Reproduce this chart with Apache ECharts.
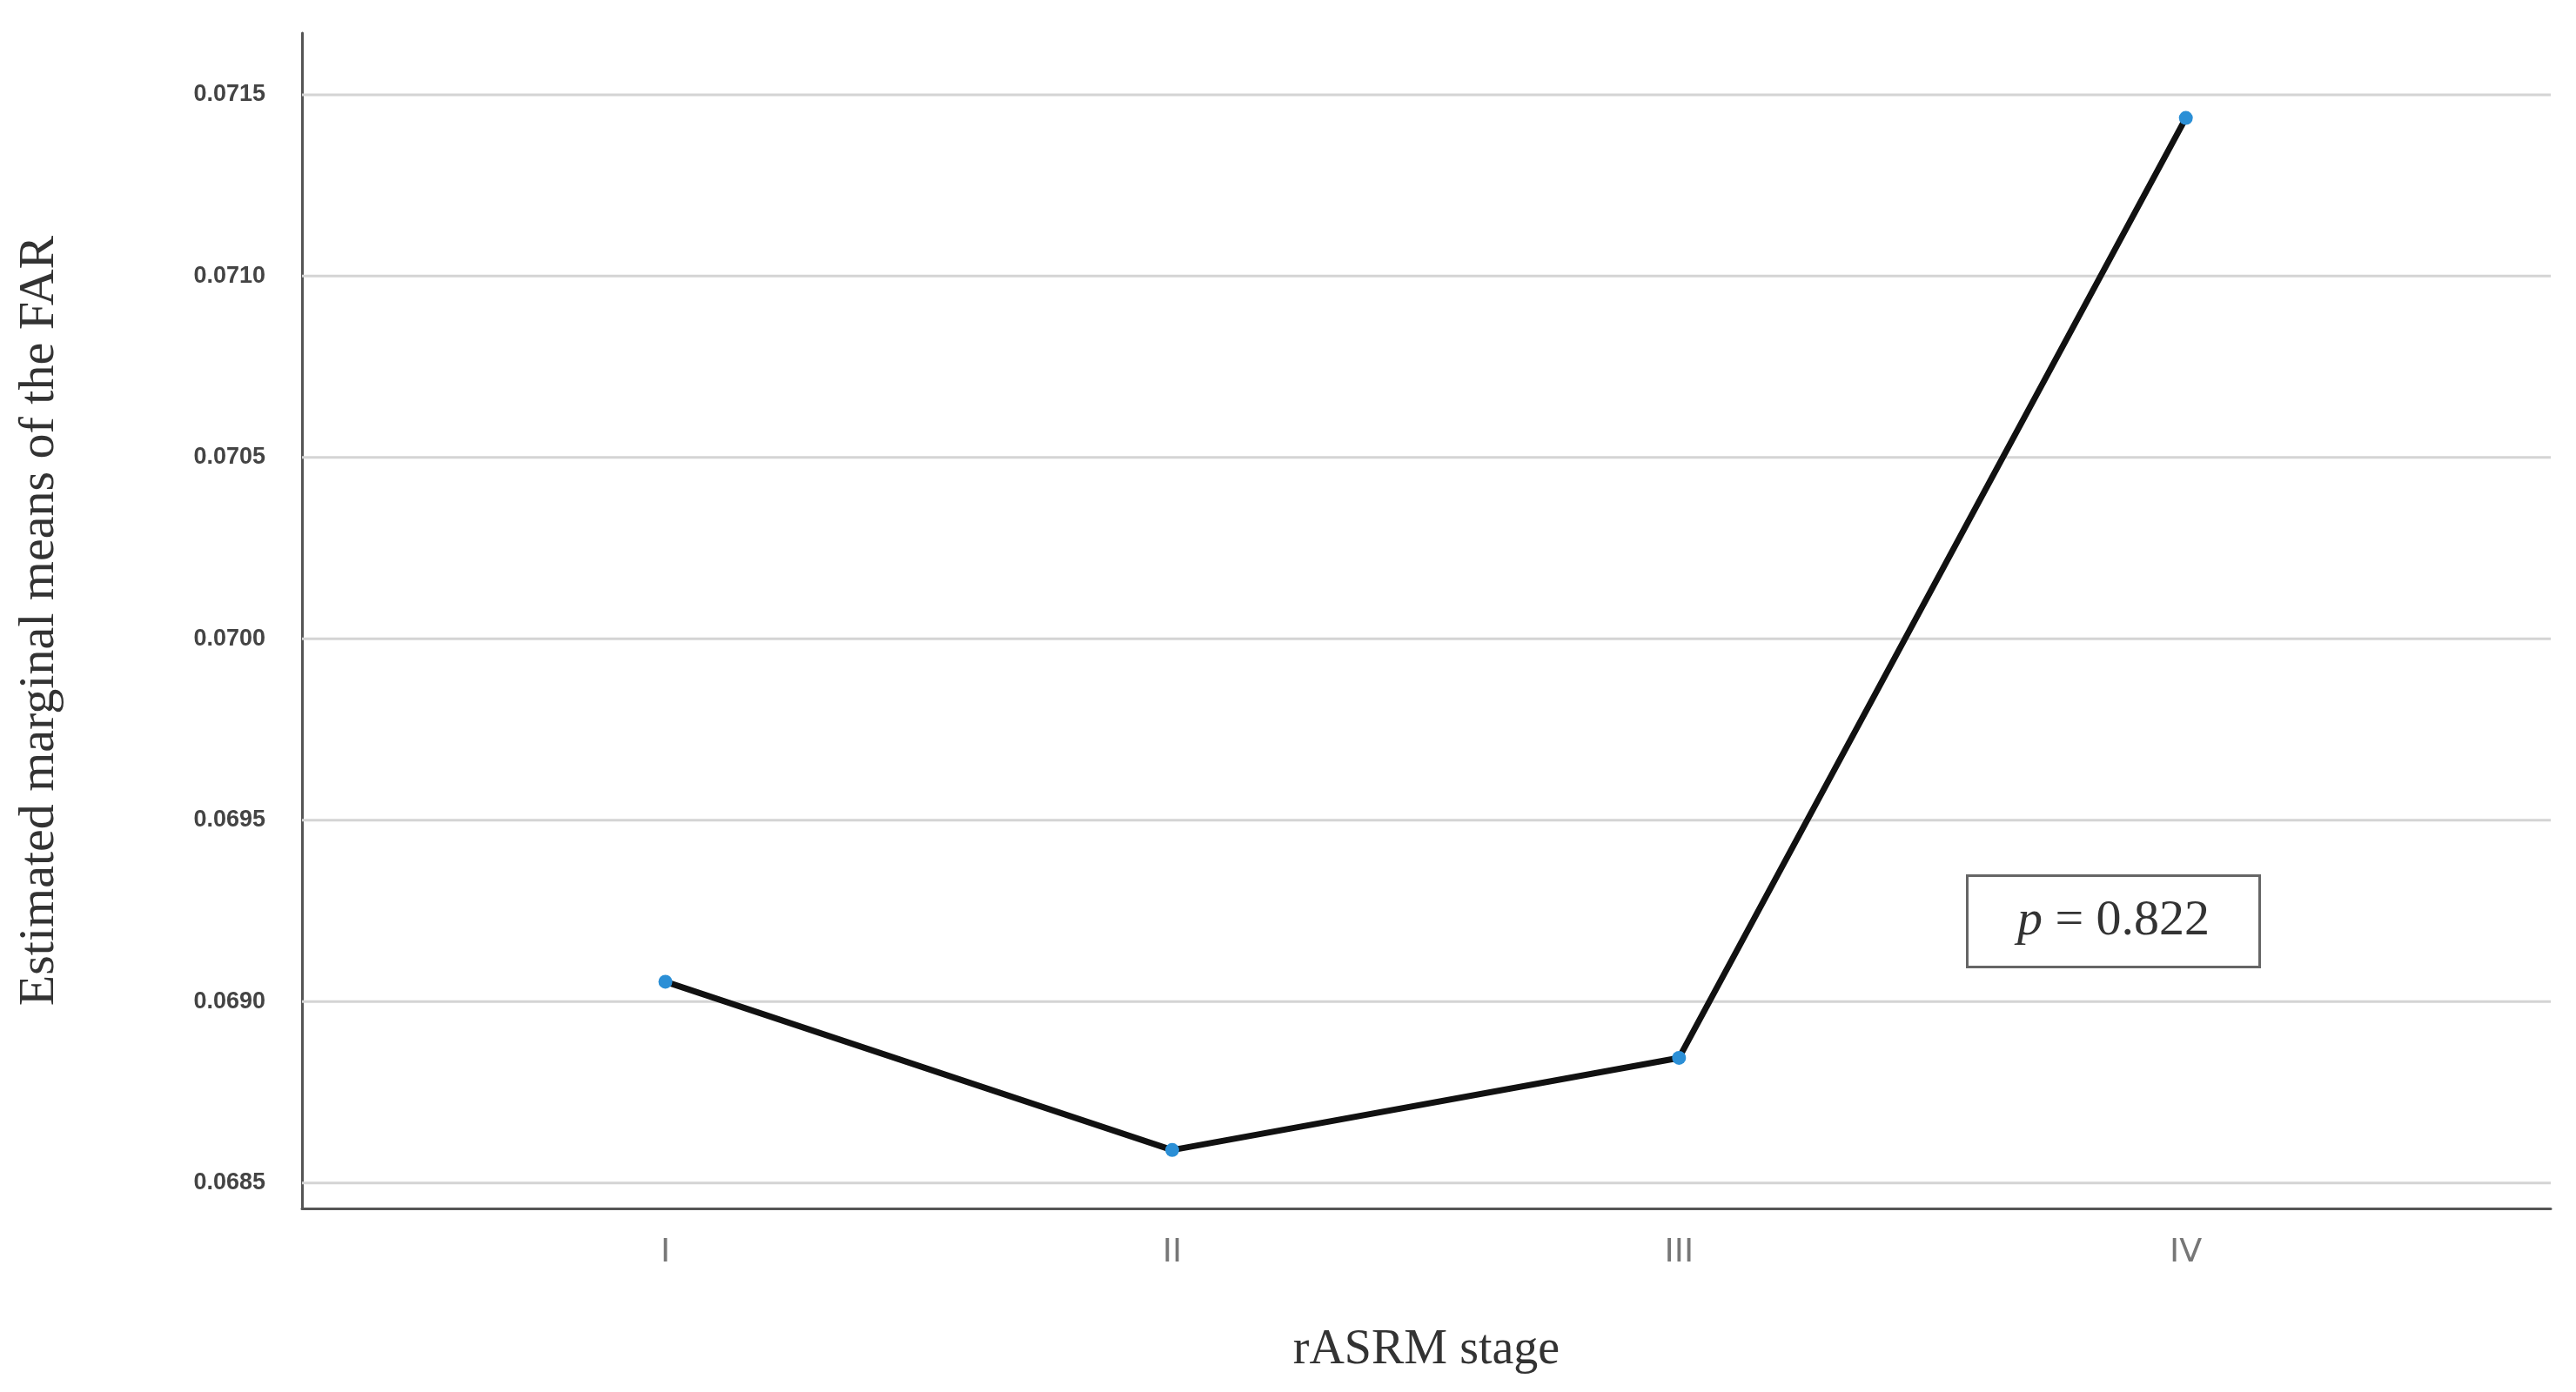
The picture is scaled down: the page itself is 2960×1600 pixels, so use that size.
<!DOCTYPE html>
<html>
<head>
<meta charset="utf-8">
<script src="https://cdn.jsdelivr.net/npm/echarts@6/dist/echarts.min.js"></script>
<style>html,body{margin:0;background:#fff}#c{width:2960px;height:1600px}</style>
</head>
<body>
<div id="c"></div>
<script>
var stages = ['I', 'II', 'III', 'IV'];
var stagePos = [1, 2, 3, 4];
var farMeans = [0.069055, 0.068591, 0.068845, 0.071436];
var yTicks = [0.0685, 0.0690, 0.0695, 0.0700, 0.0705, 0.0710, 0.0715];
var xMin = 0.283, xMax = 4.72;

var chart = echarts.init(document.getElementById('c'));

// light horizontal gridlines at each tick value
var gridSeries = yTicks.map(function (v) {
  return {
    type: 'line',
    data: [[xMin, v], [xMax, v]],
    symbol: 'none',
    silent: true,
    lineStyle: { color: '#d4d4d4', width: 3 },
    z: 1
  };
});

var option = {
  backgroundColor: '#fff',
  grid: { left: 347, right: 29, top: 38, bottom: 211 },
  xAxis: {
    type: 'value',
    min: xMin,
    max: xMax,
    name: 'rASRM stage',
    nameLocation: 'middle',
    nameGap: 135,
    nameTextStyle: { fontFamily: 'Liberation Serif', fontSize: 56, color: '#333' },
    axisLine: { show: true, lineStyle: { color: '#555', width: 3 } },
    axisTick: { show: false },
    splitLine: { show: false },
    axisLabel: {
      customValues: stagePos,
      formatter: function (v) { return stages[Math.round(v) - 1]; },
      margin: 32,
      fontFamily: 'DejaVu Sans',
      fontSize: 38,
      color: '#777'
    }
  },
  yAxis: {
    type: 'value',
    min: 0.06843,
    max: 0.07167,
    name: 'Estimated marginal means of the FAR',
    nameLocation: 'middle',
    nameGap: 272,
    nameTextStyle: { fontFamily: 'Liberation Serif', fontSize: 58, color: '#333' },
    axisLine: { show: true, lineStyle: { color: '#555', width: 3 } },
    axisTick: { show: false },
    splitLine: { show: false },
    axisLabel: {
      customValues: yTicks,
      formatter: function (v) { return v.toFixed(4); },
      margin: 42,
      fontFamily: 'Liberation Sans',
      fontWeight: 'bold',
      fontSize: 27,
      color: '#444'
    }
  },
  series: gridSeries.concat([{
    type: 'line',
    data: stagePos.map(function (x, i) { return [x, farMeans[i]]; }),
    symbol: 'circle',
    symbolSize: 16,
    itemStyle: { color: '#2b8fd6' },
    lineStyle: { color: '#111', width: 7 },
    z: 5
  }]),
  graphic: [{
    type: 'group',
    left: 2259,
    top: 1005,
    children: [{
      type: 'rect',
      shape: { x: 0, y: 0, width: 336, height: 105 },
      style: { fill: '#fff', stroke: '#666', lineWidth: 3 }
    }, {
      type: 'text',
      x: 168,
      y: 52,
      style: {
        text: '{i|p} = 0.822',
        rich: { i: { fontStyle: 'italic', fontFamily: 'Liberation Serif', fontSize: 58, fill: '#333' } },
        fontFamily: 'Liberation Serif',
        fontSize: 58,
        fill: '#333',
        align: 'center',
        verticalAlign: 'middle'
      }
    }]
  }]
};
chart.setOption(option);
</script>
</body>
</html>
